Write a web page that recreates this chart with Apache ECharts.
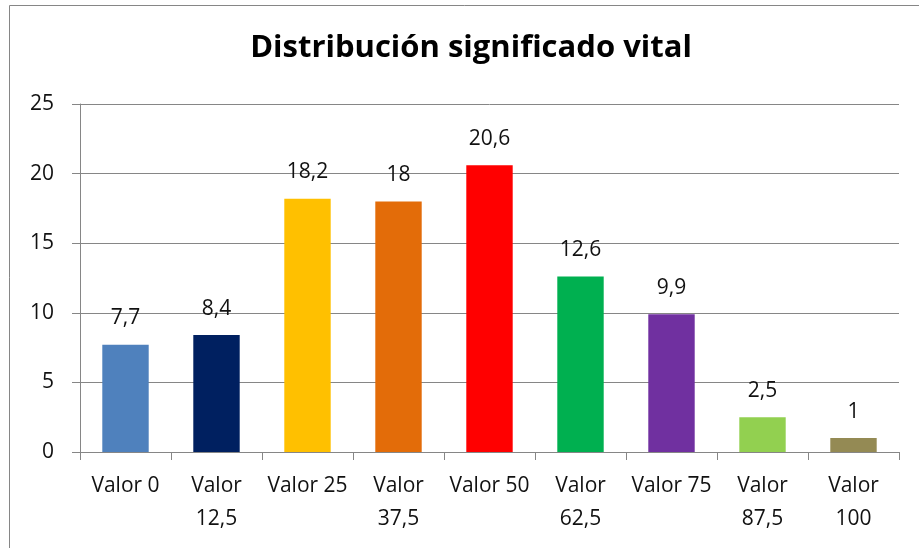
<!DOCTYPE html>
<html><head><meta charset="utf-8">
<script src="https://cdn.jsdelivr.net/npm/echarts@6/dist/echarts.min.js"></script>
<style>html,body{margin:0;padding:0;background:#fff}#c{width:919px;height:548px}</style>
</head><body><div id="c"></div>
<script>
const categories = ['Valor 0','Valor\n12,5','Valor 25','Valor\n37,5','Valor 50','Valor\n62,5','Valor 75','Valor\n87,5','Valor\n100'];
const values = [7.7, 8.4, 18.2, 18, 20.6, 12.6, 9.9, 2.5, 1];
const colors = ['#4F81BD','#002060','#FFC000','#E36C09','#FF0000','#00B050','#7030A0','#92D050','#948A54'];
const yTicks = [0, 5, 10, 15, 20, 25];
const FONT = 'Open Sans';
const chart = echarts.init(document.getElementById('c'));
chart.setOption({
  backgroundColor: '#fff',
  animation: false,
  title: {
    text: 'Distribución significado vital',
    left: 466, top: 28, textAlign: 'center',
    textStyle: {fontFamily: FONT, fontWeight: 'bold', fontSize: 31, color: '#000'}
  },
  graphic: [{type: 'rect', shape: {x: 9.5, y: 5.5, width: 1000, height: 1000}, style: {fill: 'none', stroke: '#868686', lineWidth: 1}, silent: true}],
  grid: {left: 80, right: 20, top: 104, bottom: 96},
  xAxis: {
    type: 'category', data: categories,
    axisLine: {lineStyle: {color: '#868686', width: 1}},
    axisTick: {show: true, length: 8, alignWithLabel: false, lineStyle: {color: '#868686'}},
    axisLabel: {fontFamily: FONT, fontSize: 21, color: '#111', margin: 18, lineHeight: 33, interval: 0}
  },
  yAxis: {
    type: 'value', min: yTicks[0], max: yTicks[yTicks.length-1], interval: 5,
    axisLine: {show: true, lineStyle: {color: '#868686'}},
    axisTick: {show: true, length: 8, lineStyle: {color: '#868686'}},
    splitLine: {lineStyle: {color: '#868686', width: 1}},
    axisLabel: {fontFamily: FONT, fontSize: 21, color: '#111', margin: 26}
  },
  series: [{
    type: 'bar', barWidth: '51%',
    data: values.map((v, i) => ({value: v, itemStyle: {color: colors[i]}})),
    label: {show: true, position: 'top', distance: 16, fontFamily: FONT, fontSize: 21, color: '#111',
      formatter: p => String(p.value).replace('.', ',')}
  }]
});
</script></body></html>
